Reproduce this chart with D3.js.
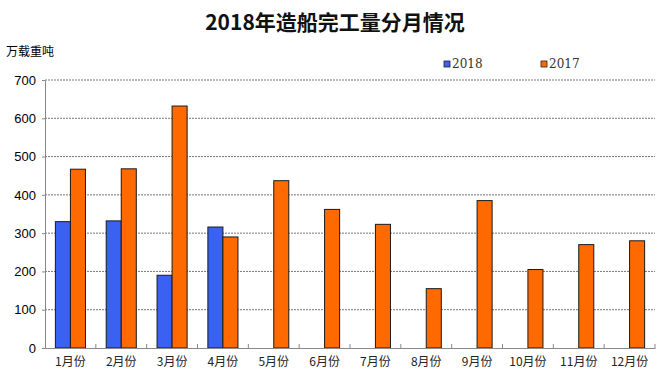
<!DOCTYPE html>
<html><head><meta charset="utf-8">
<script src="https://cdn.jsdelivr.net/npm/d3@7"></script>
<style>body{margin:0;background:#fff;}svg{display:block;}</style>
</head><body><svg id="c" width="670" height="380"></svg>
<script>
const months = ["1月份","2月份","3月份","4月份","5月份","6月份","7月份","8月份","9月份","10月份","11月份","12月份"];
const series = ["2018","2017"];
const values2018 = [330,332,190,316,null,null,null,null,null,null,null,null];
const values2017 = [467,468,632,290,437,362,323,155,385,205,270,280];
const yTicks = [0,100,200,300,400,500,600,700];
const colors = {"2018":"#3a62f2","2017":"#ff6a00"};

const svg = d3.select("#c");
const m = {l:45, r:15, t:80, b:32};
const W = 670, H = 380;
const x = d3.scaleBand().domain(months).range([m.l, W - m.r]).paddingInner(0).paddingOuter(0);
const xs = d3.scaleBand().domain(series).range([0, x.bandwidth()]).paddingInner(0).paddingOuter(0.69);
const y = d3.scaleLinear().domain([0,700]).range([H - m.b, m.t]);

svg.append("text").attr("x",335).attr("y",30).attr("text-anchor","middle")
  .attr("font-family","'Noto Sans CJK SC', sans-serif").attr("font-weight","bold").attr("font-size",21).attr("fill","#111").text("2018年造船完工量分月情况");
svg.append("text").attr("x",6).attr("y",56)
  .attr("font-family","'Noto Sans CJK SC', sans-serif").attr("font-size",12).text("万载重吨");

// gridlines
svg.append("g").selectAll("line").data(yTicks.filter(d=>d>0)).join("line")
  .attr("x1",m.l).attr("x2",W-m.r).attr("y1",d=>y(d)).attr("y2",d=>y(d))
  .attr("stroke","#777").attr("stroke-dasharray","2,1").attr("stroke-width",1);

// y axis
const ya = svg.append("g").attr("transform",`translate(${m.l},0)`)
  .call(d3.axisLeft(y).tickValues(yTicks).tickSize(3).tickPadding(6));
ya.select(".domain").attr("stroke","#888");
ya.selectAll(".tick line").attr("stroke","#888");
ya.selectAll("text").attr("font-family","Arial, 'Liberation Sans', sans-serif").attr("font-size",13).attr("fill","#000");

// bars
const data = months.map((mo,i)=>({mo, v:{"2018":values2018[i],"2017":values2017[i]}}));
const g = svg.append("g");
data.forEach(d=>{
  series.forEach(s=>{
    if(d.v[s]==null) return;
    g.append("rect").attr("x",x(d.mo)+xs(s)).attr("width",xs.bandwidth())
      .attr("y",y(d.v[s])).attr("height",y(0)-y(d.v[s]))
      .attr("fill",colors[s]).attr("stroke","#1a1a1a").attr("stroke-width",1);
  });
});

// x axis
const xa = svg.append("g").attr("transform",`translate(0,${y(0)})`)
  .call(d3.axisBottom(x).tickSize(0).tickPadding(9));
xa.select(".domain").attr("stroke","#888");
xa.selectAll("text").attr("font-family","'Noto Sans CJK SC', sans-serif").attr("font-size",12).attr("fill","#222");
svg.append("g").selectAll("line").data(months.slice(1).concat(["end"])).join("line")
  .attr("x1",(d,i)=>m.l + (i+1)*x.bandwidth()).attr("x2",(d,i)=>m.l + (i+1)*x.bandwidth())
  .attr("y1",y(0)).attr("y2",y(0)-4).attr("stroke","#888");

// legend
const lg = svg.append("g");
series.forEach((s,i)=>{
  const lx = 444 + i*97;
  lg.append("rect").attr("x",lx).attr("y",61).attr("width",6).attr("height",6)
    .attr("fill",colors[s]).attr("stroke","#222").attr("stroke-width",0.8);
  lg.append("text").attr("x",lx+8).attr("y",68).attr("font-family","'DejaVu Serif', 'Liberation Serif', serif")
    .attr("font-size",12).attr("fill","#333").text(s);
});
</script></body></html>
